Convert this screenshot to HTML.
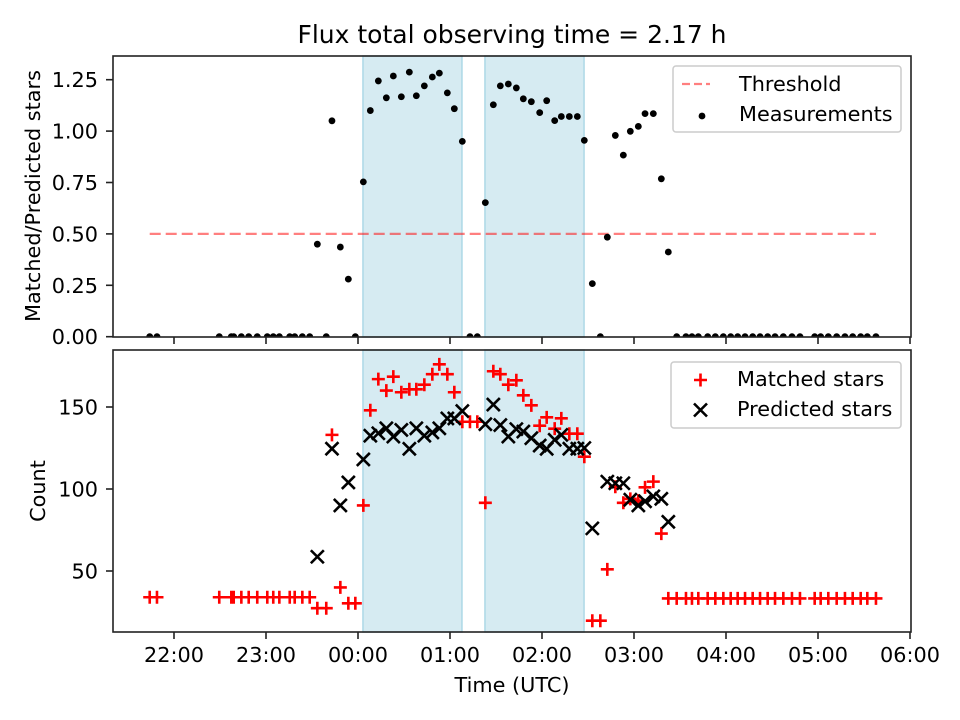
<!DOCTYPE html>
<html><head><meta charset="utf-8"><style>
body{margin:0;background:#fff}
svg{display:block;font-family:"DejaVu Sans","Liberation Sans",sans-serif}
</style></head><body>
<svg id="chart" width="960" height="720" viewBox="0 0 960 720">
<rect width="960" height="720" fill="#fff"/>
<text x="512" y="43" font-size="25" text-anchor="middle">Flux total observing time = 2.17 h</text>
<g id="top"></g><g id="bot"></g>
</svg>
<script>
const times=[-2.264,-2.185,-1.508,-1.377,-1.351,-1.268,-1.188,-1.095,-0.986,-0.921,-0.855,-0.742,-0.688,-0.605,-0.525,-0.442,-0.345,-0.283,-0.192,-0.105,-0.029,0.058,0.134,0.221,0.308,0.384,0.471,0.558,0.634,0.721,0.808,0.884,0.971,1.047,1.134,1.217,1.297,1.384,1.471,1.547,1.634,1.721,1.797,1.884,1.975,2.051,2.138,2.21,2.297,2.384,2.46,2.547,2.634,2.71,2.797,2.884,2.96,3.047,3.12,3.21,3.297,3.373,3.464,3.565,3.63,3.699,3.801,3.884,3.971,4.051,4.127,4.207,4.29,4.37,4.453,4.533,4.623,4.717,4.804,4.964,5.029,5.112,5.203,5.293,5.377,5.464,5.536,5.63];
const ratio=[0,0,0,0,0,0,0,0,0,0,0,0,0,0,0,0.45,0,1.05,0.436,0.28,0,0.753,1.10,1.244,1.162,1.268,1.167,1.287,1.172,1.22,1.263,1.282,1.186,1.109,0.95,0,0,0.652,1.128,1.22,1.229,1.21,1.157,1.143,1.09,1.148,1.051,1.071,1.071,1.071,0.955,0.258,0,0.484,0.979,0.883,0.999,1.023,1.085,1.085,0.768,0.412,0,0,0,0,0,0,0,0,0,0,0,0,0,0,0,0,0,0,0,0,0,0,0,0,0,0];
const matched=[34,34,34,34,34,34,34,34,34,34,34,34,34,34,34,27.3,27.3,133,40,30.3,30.3,90,148,167,160,168.5,159,160.8,160.8,163.6,170,176,170,159,141,141,141,91.6,171.8,170,163.6,166.3,157.1,151,138.6,143.7,136.8,143.1,133.7,133.7,119.7,19.7,19.7,51,101.4,91.6,94,92.9,101,104.5,72.8,33.3,33.3,33.3,33.3,33.3,33.3,33.3,33.3,33.3,33.3,33.3,33.3,33.3,33.3,33.3,33.3,33.3,33.3,33.3,33.3,33.3,33.3,33.3,33.3,33.3,33.3,33.3];
const predicted=[null,null,null,null,null,null,null,null,null,null,null,null,null,null,null,58.7,null,124.6,90,104,null,118,132.5,134,137,132,136,124.5,137,132.5,134.5,137,143,143,147.5,null,null,139.5,151.5,139,132,136.5,135,131,126.5,124.5,130,133,124.6,124.6,125,76,null,104.5,103.5,103.5,93.5,90,92.5,95.5,94,80,null,null,null,null,null,null,null,null,null,null,null,null,null,null,null,null,null,null,null,null,null,null,null,null,null,null];
const threshold=0.5;
const spans=[[0.054,1.13],[1.38,2.457]];
const xTicks=[-2,-1,0,1,2,3,4,5,6];
const xTickLabels=["22:00","23:00","00:00","01:00","02:00","03:00","04:00","05:00","06:00"];
const topTicks=[0,0.25,0.5,0.75,1.0,1.25];
const topTickLabels=["0.00","0.25","0.50","0.75","1.00","1.25"];
const botTicks=[50,100,150];
const botTickLabels=["50","100","150"];

const NS="http://www.w3.org/2000/svg";
const L=113,R=911;
const FS=20.8;
const MS=6.5;
const X=t=>358+t*92;
const yTop=v=>336.7-v*205.6;
const yBot=v=>571-(v-50)*1.64;
function mk(p,tag,a){const e=document.createElementNS(NS,tag);for(const k in a)e.setAttribute(k,a[k]);p.appendChild(e);return e;}
function axes(g,T,B,name){
  const cp=mk(g,'clipPath',{id:'cp'+name});mk(cp,'rect',{x:L,y:T,width:R-L,height:B-T});
  const frame=mk(g,'g',{});
  
  
  spans.forEach(s=>{const r=mk(frame,'rect',{x:X(s[0]),y:T,width:X(s[1])-X(s[0]),height:B-T,fill:'#add8e6','fill-opacity':0.5,stroke:'#add8e6','stroke-width':1.5});
    
    });
  return frame;
}
function frameAndTicks(g,T,B,name,showLabels){
  mk(g,'rect',{x:L,y:T,width:R-L,height:B-T,fill:'none',stroke:'#222','stroke-width':1.6});
  xTicks.forEach((t,i)=>{mk(g,'line',{x1:X(t),x2:X(t),y1:B,y2:B+7,stroke:'#222','stroke-width':1.6});
    if(showLabels){const tx=mk(g,'text',{x:X(t),y:B+30,'font-size':FS,'text-anchor':'middle'});tx.textContent=xTickLabels[i];
      
      }});
}
// top
const gt=document.getElementById('top');
const ft=axes(gt,56,337,'ratio');
const th=mk(ft,'line',{x1:X(times[0]),x2:X(times[times.length-1]),y1:yTop(threshold),y2:yTop(threshold),stroke:'#ff0000','stroke-opacity':0.5,'stroke-width':2.2,'stroke-dasharray':'11,5'});


const gm=mk(ft,'g',{'clip-path':'url(#cpratio)'});
times.forEach((t,i)=>{const c=mk(gm,'circle',{cx:X(t),cy:yTop(ratio[i]),r:3.4,fill:'#000'});
  
  });
frameAndTicks(gt,56,337,'ratio',false);
topTicks.forEach((v,i)=>{mk(gt,'line',{x1:L-7,x2:L,y1:yTop(v),y2:yTop(v),stroke:'#222','stroke-width':1.6});
  const tx=mk(gt,'text',{x:L-15,y:yTop(v)+7.5,'font-size':FS,'text-anchor':'end'});tx.textContent=topTickLabels[i];
  
  });
// bottom
const gb=document.getElementById('bot');
const fb=axes(gb,350,632,'count');
const gc=mk(fb,'g',{'clip-path':'url(#cpcount)'});
times.forEach((t,i)=>{const x=X(t),y=yBot(matched[i]);
  const p=mk(gc,'path',{d:`M${x-MS},${y}H${x+MS}M${x},${y-MS}V${y+MS}`,stroke:'#ff0000','stroke-width':2.6});
  
  });
times.forEach((t,i)=>{if(predicted[i]==null)return;const x=X(t),y=yBot(predicted[i]);
  const p=mk(gc,'path',{d:`M${x-MS},${y-MS}L${x+MS},${y+MS}M${x-MS},${y+MS}L${x+MS},${y-MS}`,stroke:'#000','stroke-width':2.6});
  
  });
frameAndTicks(gb,350,632,'count',true);
botTicks.forEach((v,i)=>{mk(gb,'line',{x1:L-7,x2:L,y1:yBot(v),y2:yBot(v),stroke:'#222','stroke-width':1.6});
  const tx=mk(gb,'text',{x:L-15,y:yBot(v)+7.5,'font-size':FS,'text-anchor':'end'});tx.textContent=botTickLabels[i];
  
  });
</script>
<svg width="960" height="720" style="position:absolute;left:0;top:0;font-family:'DejaVu Sans','Liberation Sans',sans-serif">
<text x="40" y="196" font-size="20.8" text-anchor="middle" transform="rotate(-90 40 196)">Matched/Predicted stars</text>
<text x="45" y="491" font-size="20.8" text-anchor="middle" transform="rotate(-90 45 491)">Count</text>
<text x="512" y="692" font-size="20.8" text-anchor="middle">Time (UTC)</text>
<g>
<rect x="673" y="66" width="228" height="66" rx="3" fill="#fff" fill-opacity="0.8" stroke="#ccc" stroke-width="1.5"/>
<line x1="682" y1="84" x2="710" y2="84" stroke="#ff0000" stroke-opacity="0.5" stroke-width="2.2" stroke-dasharray="8,4"/>
<text x="739" y="91" font-size="20.8">Threshold</text>
<circle cx="702" cy="116" r="3.4" fill="#000"/>
<text x="739" y="121" font-size="20.8">Measurements</text>
</g>
<g>
<rect x="671" y="362" width="230" height="66" rx="3" fill="#fff" fill-opacity="0.8" stroke="#ccc" stroke-width="1.5"/>
<path d="M694,380H707M700.5,373.5V386.5" stroke="#ff0000" stroke-width="2.6"/>
<text x="737" y="386" font-size="20.8">Matched stars</text>
<path d="M694,403.5L707,416.5M694,416.5L707,403.5" stroke="#000" stroke-width="2.6"/>
<text x="737" y="416" font-size="20.8">Predicted stars</text>
</g>
</svg>
</body></html>
